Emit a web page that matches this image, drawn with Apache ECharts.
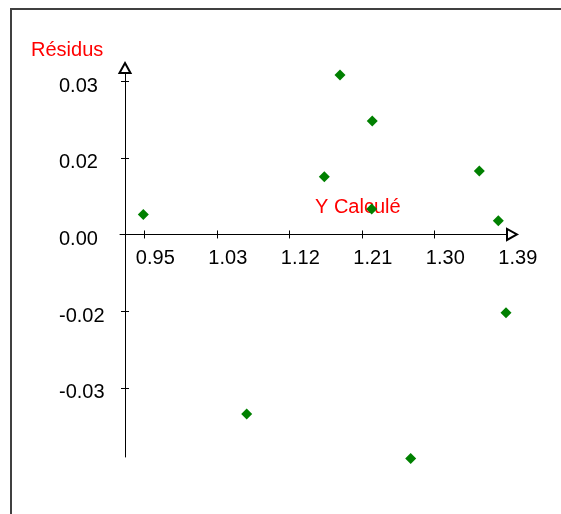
<!DOCTYPE html>
<html><head><meta charset="utf-8">
<script src="https://cdn.jsdelivr.net/npm/echarts@6/dist/echarts.min.js"></script>
<style>html,body{margin:0;padding:0;background:#fff}#c{width:561px;height:514px}</style>
</head><body><div id="c"></div>
<script>
// Data
const yCalcule = [0.9488, 1.0743, 1.1685, 1.1875, 1.2267, 1.2260, 1.2733, 1.3566, 1.3797, 1.3890];
const residus  = [0.0039, -0.0351, 0.0113, 0.0312, 0.0222, 0.0050, -0.0438, 0.0124, 0.0027, -0.0153];
const xTickValues = [0.95, 1.038, 1.126, 1.214, 1.302, 1.39];
const xTickLabels = ['0.95', '1.03', '1.12', '1.21', '1.30', '1.39'];
const yTickValues = [0.03, 0.015, 0, -0.015, -0.03];
const yTickLabels = ['0.03', '0.02', '0.00', '-0.02', '-0.03'];
const xName = 'Y Calculé';
const yName = 'Résidus';

const FONT = 'Liberation Sans, Arial, sans-serif';
const X_MIN = 0.9205, X_MAX = 1.3963;
const Y_MIN = -0.04352, Y_MAX = 0.03256;
const GRID = { left: 120, right: 49, top: 68, bottom: 57 };
const GRID_H = 514 - GRID.top - GRID.bottom;
// place the x axis where y = 0 (grid bottom shifted up)
const X_OFFSET = -(0 - Y_MIN) / (Y_MAX - Y_MIN) * GRID_H;

function lookup(vals, labels) {
  return function (v) {
    const i = vals.findIndex(t => Math.abs(t - v) < 1e-7);
    return i >= 0 ? labels[i] : '';
  };
}

const chart = echarts.init(document.getElementById('c'), null, { renderer: 'canvas' });
const baseLine = { color: '#000', width: 1 };

chart.setOption({
  animation: false,
  backgroundColor: '#fff',
  grid: Object.assign({ containLabel: false, outerBoundsMode: 'none' }, GRID),
  xAxis: [
    {
      type: 'value', position: 'bottom', offset: X_OFFSET, min: X_MIN, max: X_MAX,
      axisLine: { show: true, onZero: false, symbol: ['none', 'emptyTriangle'], symbolSize: [11, 10], lineStyle: baseLine },
      axisTick: { show: true, inside: false, length: 4, customValues: xTickValues, lineStyle: baseLine },
      axisLabel: { show: true, customValues: xTickValues, formatter: lookup(xTickValues, xTickLabels),
        margin: 14, color: '#000', fontSize: 20, fontFamily: FONT, align: 'center', padding: [0, 0, 0, 22] },
      splitLine: { show: false }
    },
    {
      type: 'value', position: 'bottom', offset: X_OFFSET, min: X_MIN, max: X_MAX,
      axisLine: { show: false, onZero: false },
      axisTick: { show: true, inside: true, length: 4, customValues: xTickValues, lineStyle: baseLine },
      axisLabel: { show: false, customValues: xTickValues },
      splitLine: { show: false }
    }
  ],
  yAxis: [
    {
      type: 'value', position: 'left', offset: -5, min: Y_MIN, max: Y_MAX,
      axisLine: { show: true, onZero: false, symbol: ['none', 'emptyTriangle'], symbolSize: [11, 10], lineStyle: baseLine },
      axisTick: { show: true, inside: false, length: 4, customValues: yTickValues, lineStyle: baseLine },
      axisLabel: { show: true, customValues: yTickValues, formatter: lookup(yTickValues, yTickLabels),
        margin: 66, align: 'left', verticalAlign: 'top', lineHeight: 10,
        color: '#000', fontSize: 20, fontFamily: FONT },
      splitLine: { show: false }
    },
    {
      type: 'value', position: 'left', offset: -5, min: Y_MIN, max: Y_MAX,
      axisLine: { show: false, onZero: false },
      axisTick: { show: true, inside: true, length: 4, customValues: yTickValues, lineStyle: baseLine },
      axisLabel: { show: false, customValues: yTickValues },
      splitLine: { show: false }
    }
  ],
  graphic: [
    { type: 'rect', z: 0, silent: true, shape: { x: 11, y: 9, width: 700, height: 700 },
      style: { fill: 'none', stroke: '#404040', lineWidth: 2 } },
    { type: 'text', z: 1, left: 31, top: 40, silent: true,
      style: { text: yName, fill: '#ff0000', font: '20px ' + FONT } },
    { type: 'text', z: 1, left: 315, top: 197, silent: true,
      style: { text: xName, fill: '#ff0000', font: '20px ' + FONT } }
  ],
  series: [{
    type: 'scatter', xAxisIndex: 0, yAxisIndex: 0, clip: false, z: 5,
    symbol: 'diamond', symbolSize: 11,
    itemStyle: { color: '#008000', opacity: 1 },
    data: yCalcule.map((x, i) => [x, residus[i]])
  }]
});
</script>
</body></html>
